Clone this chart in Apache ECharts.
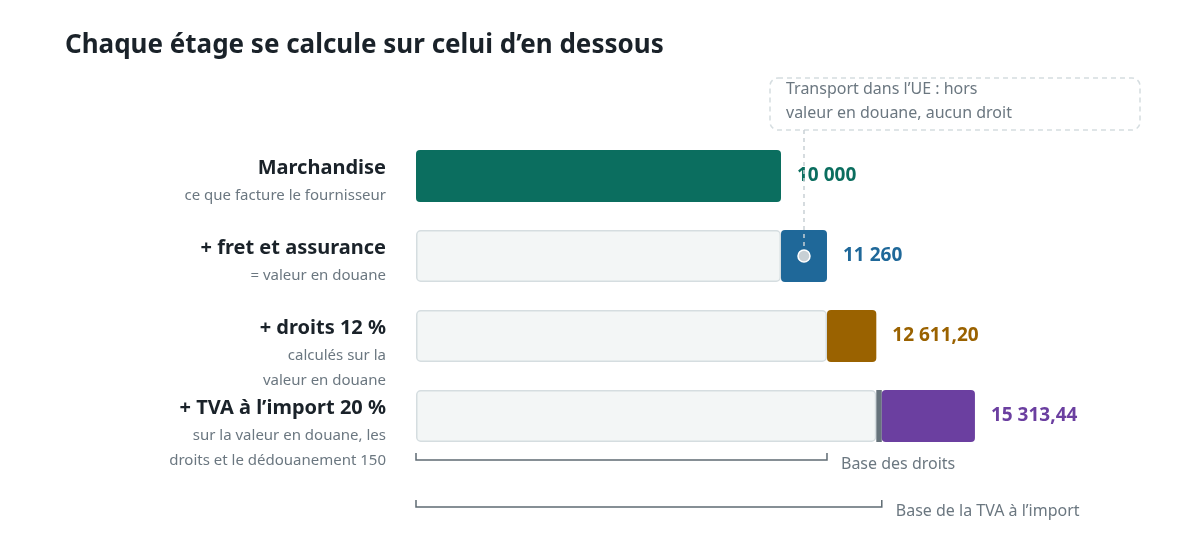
<!DOCTYPE html>
<html><head><meta charset="utf-8">
<script src="https://cdn.jsdelivr.net/npm/echarts@6/dist/echarts.min.js"></script>
<style>html,body{margin:0;padding:0;background:#fff}#c{width:1200px;height:560px}</style>
</head><body><div id="c"></div>
<script>
const categories = ['Marchandise', '+ fret et assurance', '+ droits 12 %', '+ TVA à l’import 20 %'];
const subtitles = [['ce que facture le fournisseur'], ['= valeur en douane'], ['calculés sur la', 'valeur en douane'], ['sur la valeur en douane, les', 'droits et le dédouanement 150']];
const baseValues = [0, 10000, 11260, 12611.2];
const clearanceValues = [0, 0, 0, 150];
const stepValues = [10000, 1260, 1351.2, 2552.24];
const totals = [10000, 11260, 12611.20, 15313.44];
const totalLabels = ['10 000', '11 260', '12 611,20', '15 313,44'];
const stepColors = ['#0b6e5f', '#1f6899', '#9a6200', '#6b3fa0'];
const dutyBase = 11260, vatBase = 12761.2;
const F = '"Noto Sans", "Open Sans", sans-serif';

const chart = echarts.init(document.getElementById('c'));
chart.setOption({
  animation: false,
  title: { text: 'Chaque étage se calcule sur celui d’en dessous', left: 60, top: 28,
    textStyle: { fontFamily: F, fontSize: 26, fontWeight: 'bold', color: '#1a2229' } },
  grid: { left: 416, right: 54, top: 136, bottom: 104 },
  xAxis: { type: 'value', min: 0, max: 20000, show: false },
  yAxis: { type: 'category', data: categories, inverse: true, show: false },
  series: [
    { type: 'bar', stack: 's', barWidth: 52, data: baseValues.map(v => v || '-'),
      itemStyle: { color: '#f3f6f6', borderColor: '#d5dde0', borderWidth: 1.5, borderRadius: 4 } },
    { type: 'bar', stack: 's', data: clearanceValues.map(v => v || '-'),
      itemStyle: { color: '#66737b' } },
    { type: 'bar', stack: 's', data: stepValues.map((v, i) => ({ value: v, itemStyle: { color: stepColors[i] },
        label: { color: stepColors[i] } })),
      itemStyle: { borderRadius: 4 },
      label: { show: true, position: 'right', distance: 16, fontFamily: F, fontSize: 19, fontWeight: 'bold',
        formatter: p => totalLabels[p.dataIndex] } }
  ]
});

const g = [];
const px = (x, i) => chart.convertToPixel({ xAxisIndex: 0, yAxisIndex: 0 }, [x, i]);
categories.forEach((c, i) => {
  const y = px(0, i)[1];
  g.push({ type: 'text', style: { text: c, x: 386, y: y - 8, align: 'right', verticalAlign: 'middle',
    font: 'bold 20px ' + F, fill: '#1a2229' } });
  subtitles[i].forEach((s, k) => g.push({ type: 'text', style: { text: s, x: 386, y: y + 20 + k * 25,
    align: 'right', verticalAlign: 'middle', font: '15px ' + F, fill: '#6b7780' } }));
});
function bracket(v, y, text) {
  const x0 = px(0, 0)[0], x1 = px(v, 0)[0];
  const st = { stroke: '#5f6b73', lineWidth: 1.5 };
  g.push({ type: 'polyline', shape: { points: [[x0, y - 7], [x0, y], [x1, y], [x1, y - 7]] }, style: st });
  g.push({ type: 'text', style: { text, x: x1 + 14, y: y + 4, verticalAlign: 'middle', font: '16px ' + F, fill: '#6b7780' } });
}
bracket(dutyBase, 460, 'Base des droits');
bracket(vatBase, 507, 'Base de la TVA à l’import');
const dot = px(10000 + 1260 / 2, 1);
g.push({ type: 'rect', shape: { x: 770, y: 78, width: 370, height: 52, r: 8 },
  style: { fill: '#fff', stroke: '#d5dde0', lineWidth: 1.5, lineDash: [5, 4] } });
g.push({ type: 'text', style: { text: 'Transport dans l’UE : hors\nvaleur en douane, aucun droit', x: 786, y: 77,
  font: '16px ' + F, fill: '#6b7780', lineHeight: 24 } });
g.push({ type: 'line', z: 10, shape: { x1: dot[0], y1: 130, x2: dot[0], y2: dot[1] },
  style: { stroke: '#c8d0d5', lineWidth: 1.5, lineDash: [4, 4] } });
g.push({ type: 'circle', z: 11, shape: { cx: dot[0], cy: dot[1], r: 6 },
  style: { fill: '#c8d0d5', stroke: '#fff', lineWidth: 1.5 } });
chart.setOption({ graphic: g });
</script></body></html>
